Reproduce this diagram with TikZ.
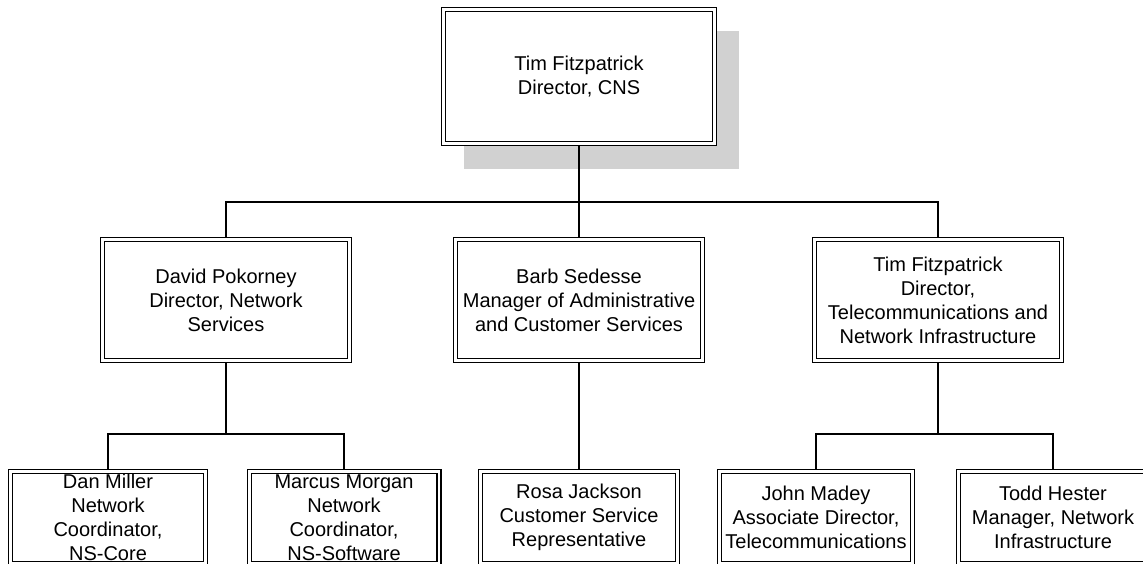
\documentclass[tikz,border=0pt]{standalone}
\usepackage{fontspec}
\setmainfont{Liberation Sans}
\usepackage{tikz}
\usepackage{xcolor}

\tikzset{
  post/.style={draw, fill=white, double, line width=1.4pt, double distance=2.6pt,
    outer sep=2.7pt, inner sep=0pt, align=center,
    font=\fontsize{20}{24}\selectfont},
  head/.style={post, minimum width=270.6pt, minimum height=133.6pt},
  mid/.style={post, minimum width=246.6pt, minimum height=120.6pt},
  low/.style={post, minimum width=194.6pt, minimum height=91.6pt},
  wire/.style={line width=1.3pt}
}

\begin{document}
\begin{tikzpicture}[x=1pt,y=-1pt]
          \useasboundingbox (0,0) rectangle (1143,564);
          \clip (0,0) rectangle (1143,564);
          \fill[black!18] (464,31) rectangle (739,169);
          \node[head] (cns) at (579,76.5) {Tim Fitzpatrick\\Director, CNS};
          \node[mid] (pokorney) at (226,300) {David Pokorney\\Director, Network\\Services};
          \node[mid] (sedesse) at (579,300) {Barb Sedesse\\Manager of Administrative\\and Customer Services};
          \node[mid] (telecom) at (938,300) {Tim Fitzpatrick\\Director,\\Telecommunications and\\Network Infrastructure};
          \node[low, minimum width=194.6pt] (miller) at (108,517.5) {Dan Miller\\Network\\Coordinator,\\NS-Core};
          \node[low, minimum width=189.6pt] (morgan) at (344,517.5) {Marcus Morgan\\Network\\Coordinator,\\NS-Software};
          \node[low, minimum width=196.6pt] (jackson) at (579,517.5) {Rosa Jackson\\Customer Service\\Representative};
          \node[low, minimum width=192.6pt] (madey) at (816,517.5) {John Madey\\Associate Director,\\Telecommunications};
          \node[low, minimum width=188.6pt] (hester) at (1053,517.5) {Todd Hester\\Manager, Network\\Infrastructure};
          \coordinate (busA) at (579,202);
          \coordinate (busB) at (226,434);
          \coordinate (busC) at (938,434);
          \draw[wire] (cns.south) -- (busA);
          \draw[wire] (pokorney.north) |- (busA) -| (telecom.north);
          \draw[wire] (sedesse.north) -- (busA);
          \draw[wire] (pokorney.south) -- (busB);
          \draw[wire] (miller.north) |- (busB) -| (morgan.north);
          \draw[wire] (sedesse.south) -- (jackson.north);
          \draw[wire] (telecom.south) -- (busC);
          \draw[wire] (madey.north) |- (busC) -| (hester.north);
        \end{tikzpicture}
\end{document}
